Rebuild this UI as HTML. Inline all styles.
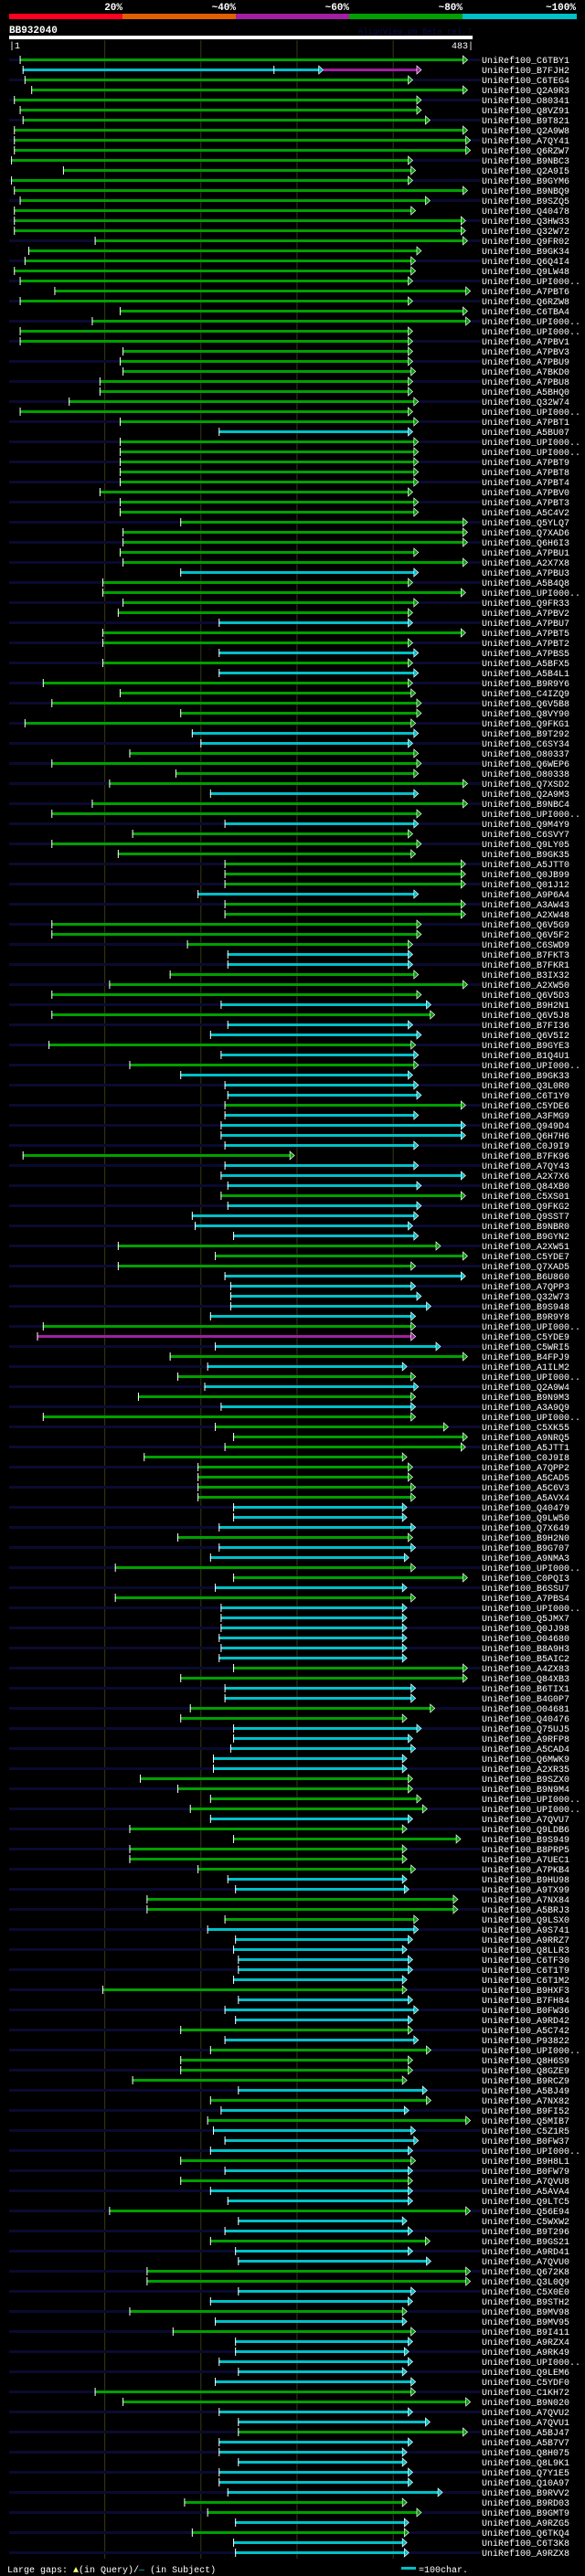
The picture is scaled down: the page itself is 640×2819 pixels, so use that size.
<!DOCTYPE html>
<html><head><meta charset="utf-8"><title>AlignView BB932040</title>
<style>
html,body{margin:0;padding:0;background:#000;}
svg{display:block;}
text{font-family:"Liberation Mono","DejaVu Sans Mono",monospace;}
</style></head>
<body>
<svg id="chart" width="640" height="2819" viewBox="0 0 640 2819" xmlns="http://www.w3.org/2000/svg">
  <rect x="0" y="0" width="640" height="2819" fill="#000"/>
  <g>
    <rect x="10" y="15" width="124" height="6" fill="#ff0020"/>
    <rect x="134" y="15" width="124" height="6" fill="#e06000"/>
    <rect x="258" y="15" width="124" height="6" fill="#a020a0"/>
    <rect x="382" y="15" width="124" height="6" fill="#00a000"/>
    <rect x="506" y="15" width="125" height="6" fill="#00c0c8"/>
    <g font-size="11" font-weight="bold" fill="#fff" text-anchor="end">
      <text x="134" y="11">20%</text>
      <text x="258" y="11">~40%</text>
      <text x="382" y="11">~60%</text>
      <text x="506" y="11">~80%</text>
      <text x="630" y="11">~100%</text>
    </g>
  </g>
  <text x="10" y="36" font-size="11" font-weight="bold" fill="#fff">BB932040</text>
  <text x="516" y="37" font-size="9" fill="#0c0c48" text-anchor="end">AlignView.pm Beta rel.7</text>
  <rect x="10" y="39" width="507" height="4" fill="#fff"/>
  <text x="10" y="53" font-size="10" fill="#fff">|1</text>
  <text x="518" y="53" font-size="10" fill="#fff" text-anchor="end">483|</text>
  <g id="grid"></g>
  <g id="rows"></g>
  <g>
    <text x="8" y="2815" font-size="10" fill="#fff">Large gaps: <tspan fill="#ffff80">▲</tspan>(in Query)/<tspan fill="#00c0c8">—</tspan> (in Subject)</text>
    <rect x="439" y="2809" width="16" height="3" fill="#00c0c8"/>
    <text x="458" y="2815" font-size="10" fill="#fff">=100char.</text>
  </g>
</svg>
<script>
const labels = ["C6TBY1","B7FJH2","C6TEG4","Q2A9R3","O80341","Q8VZ91","B9T821","Q2A9W8","A7QY41","Q6RZW7","B9NBC3","Q2A9I5","B9GYM6","B9NBQ9","B9SZQ5","Q40478","Q3HW33","Q32W72","Q9FR02","B9GK34","Q6Q4I4","Q9LW48","UPI000..","A7PBT6","Q6RZW8","C6TBA4","UPI000..",
"UPI000..","A7PBV1","A7PBV3","A7PBU9","A7BKD0","A7PBU8","A5BHQ0","Q32W74","UPI000..","A7PBT1","A5BU07","UPI000..","UPI000..","A7PBT9","A7PBT8","A7PBT4","A7PBV0","A7PBT3","A5C4V2","Q5YLQ7","Q7XAD6","Q6H6I3","A7PBU1","A2X7X8","A7PBU3","A5B4Q8","UPI000..",
"Q9FR33","A7PBV2","A7PBU7","A7PBT5","A7PBT2","A7PBS5","A5BFX5","A5B4L1","B9R9Y6","C4IZQ9","Q6V5B8","Q8VY90","Q9FKG1","B9T292","C6SY34","O80337","Q6WEP6","O80338","Q7XSD2","Q2A9M3","B9NBC4","UPI000..","Q9M4Y9","C6SVY7","Q9LY05","B9GK35","A5JTT0",
"Q0JB99","Q01J12","A9P6A4","A3AW43","A2XW48","Q6V5G9","Q6V5F2","C6SWD9","B7FKT3","B7FKR1","B3IX32","A2XW50","Q6V5D3","B9H2N1","Q6V5J8","B7FI36","Q6V5I2","B9GYE3","B1Q4U1","UPI000..","B9GK33","Q3L0R0","C6T1Y0","C5YDE6","A3FMG9","Q949D4","Q6H7H6","C0J9I9",
"B7FK96","A7QY43","A2X7X6","Q84XB0","C5XS01","Q9FKG2","Q9SST7","B9NBR0","B9GYN2","A2XW51","C5YDE7","Q7XAD5","B6U860","A7QPP3","Q32W73","B9S948","B9R9Y8","UPI000..","C5YDE9","C5WRI5","B4FPJ9","A1ILM2","UPI000..","Q2A9W4","B9N9M3","A3A9Q9","UPI000..","C5XK55",
"A9NRQ5","A5JTT1","C0J9I8","A7QPP2","A5CAD5","A5C6V3","A5AVX4","Q40479","Q9LW50","Q7X649","B9H2N0","B9G707","A9NMA3","UPI000..","C0PQI3","B6SSU7","A7PBS4","UPI000..","Q5JMX7","Q0JJ98","O04680","B8A9H3","B5AIC2","A4ZX83","Q84XB3","B6TIX1","B4G0P7","O04681",
"Q40476","Q75UJ5","A9RFP8","A5CAD4","Q6MWK9","A2XR35","B9SZX0","B9N9M4","UPI000..","UPI000..","A7QVU7","Q9LDB6","B9S949","B8PRP5","A7UEC1","A7PKB4","B9HU98","A9TX99","A7NX84","A5BRJ3","Q9LSX0","A9S741","A9RRZ7","Q8LLR3","C6TF30","C6T1T9",
"C6T1M2","B9HXF3","B7FH84","B0FW36","A9RD42","A5C742","P93822","UPI000..","Q8H6S9","Q8GZE9","B9RCZ9","A5BJ49","A7NX82","B9FI52","Q5MIB7","C5Z1R5","B0FW37","UPI000..","B9H8L1","B0FW79","A7QVU8","A5AVA4","Q9LTC5","Q56E94","C5WXW2","B9T296",
"B9GS21","A9RD41","A7QVU0","Q672K8","Q3L0Q9","C5X0E0","B9STH2","B9MV98","B9MV95","B9I411","A9RZX4","A9RK49","UPI000..","Q9LEM6","C5YDF0","C1KH72","B9N020","A7QVU2","A7QVU1","A5BJ47","A5B7V7","Q8H075","Q8L9K1","Q7Y1E5","Q10A97","B9RVV2","B9RD03",
"B9GMT9","A9RZG5","Q6TKQ4","C6T3K8","A9RZX8"];
const starts = [12,15,17,24,6,12,15,6,6,6,3,57,3,6,12,6,6,6,90,21,17,6,12,48,12,116,87,
12,12,119,116,119,95,95,63,12,116,219,116,116,116,116,116,95,116,116,179,119,119,116,119,179,98,98,
119,114,219,98,98,219,98,219,36,116,45,179,17,191,200,126,45,174,105,210,87,45,225,129,45,114,225,
225,225,197,225,225,45,45,186,228,228,168,105,45,221,45,228,210,42,221,126,179,225,228,225,225,221,221,225,
15,225,221,228,221,228,191,194,234,114,215,114,225,231,231,231,210,36,30,215,168,207,176,204,135,221,36,215,
234,225,141,197,197,197,197,234,234,219,176,219,210,111,234,215,111,221,221,221,219,221,219,234,179,225,225,189,
179,234,234,231,213,213,137,176,210,189,210,126,234,126,126,197,228,236,144,144,225,207,236,234,239,239,
234,98,239,225,236,179,225,210,179,179,129,239,210,221,207,213,225,210,179,225,179,210,228,105,239,225,
210,236,239,144,144,239,210,126,215,171,236,236,219,239,215,90,119,219,239,239,219,219,239,219,219,228,183,
207,236,191,234,236];
const ends = [473,323,416,473,425,425,434,473,476,476,416,419,416,473,434,419,471,471,473,425,419,419,416,476,416,473,476,
416,416,416,416,419,416,416,422,416,422,416,422,422,422,422,422,416,422,422,473,473,473,422,473,422,416,471,
422,416,416,471,416,422,416,422,416,419,425,425,419,422,416,422,425,422,473,422,473,425,422,416,425,419,471,
471,471,422,471,471,425,425,416,416,416,422,473,425,435,439,416,425,419,422,422,416,422,425,471,422,471,471,422,
293,422,471,425,471,425,422,416,422,445,473,419,471,419,425,435,419,419,419,445,473,410,419,422,419,419,419,453,
473,471,410,416,416,419,419,410,410,419,416,419,412,419,473,410,419,410,410,410,410,410,410,473,473,419,419,439,
410,425,416,419,410,410,416,416,425,431,416,410,466,410,410,419,410,412,463,463,422,422,416,410,416,416,
410,410,416,422,416,416,422,435,416,416,410,431,435,412,476,419,422,416,419,416,416,416,416,476,410,416,
434,416,435,476,476,419,416,410,410,419,416,412,416,410,419,419,476,416,434,473,416,410,410,416,416,447,410,
425,412,412,410,412];
const colors = "gcggggggggggggggggggggggggg" +
  "ggggggggggcgggggggggggggcgg" +
  "ggcggcgcgggggccggggcggcgggg" +
  "ggcgggggccgggcgccgcgcccgcccc" +
  "gcccgccccgggcccccgpcgcgcgcgg" +
  "gggggggcccgccggcgccccccggccg" +
  "gcccccggggcgggggccgggccccc" +
  "cgcccgcggggcgcgcccgcgccgcc" +
  "gccggccgcgcccccggccgccccccg" +
  "gcgcc";
// Extension of row 1 (B7FJH2): purple segment after cyan part
const extRow = [1];
const extEnd = [425];

const NS = "http://www.w3.org/2000/svg";
const COL = {g:"#00a000", c:"#00c0c8", p:"#a020a0"};
function xPos(p){ return 10 + (p - 1) * 1.0518; }
function yPos(i){ return 65 + i * 11; }
function mk(tag, attrs, parent){
  const el = document.createElementNS(NS, tag);
  for (const k in attrs) el.setAttribute(k, attrs[k]);
  parent.appendChild(el);
  return el;
}
const grid = document.getElementById("grid");
const gridTicks = [100, 200, 300, 400];
gridTicks.forEach(function(t){
  const ln = mk("line", {x1:xPos(t)+0.5, x2:xPos(t)+0.5, y1:44, y2:2800, stroke:"#3a3a10", "stroke-width":1}, grid);
  
  
});
const rowsG = document.getElementById("rows");
for (let i = 0; i < labels.length; i++){
  const y = yPos(i);
  const g = mk("g", {}, rowsG);
  
  
  if (i % 2 === 0){
    const z = mk("rect", {x:10, y:y-1, width:516, height:3, fill:"#0a0a30"}, g);
    
    
  }
  const c = COL[colors[i]] || COL.g;
  const x0 = xPos(starts[i]), x1 = xPos(ends[i]);
  const bar = mk("rect", {x:x0, y:y-1, width:Math.max(1, x1-x0), height:3, fill:c}, g);
  
  
  const tick = mk("rect", {x:x0, y:y-4, width:1, height:9, fill:"#fff"}, g);
  
  
  const arr = mk("polygon", {points:(x1)+","+(y-4)+" "+(x1+5)+","+(y+0.5)+" "+(x1)+","+(y+5), fill:c, stroke:"#fff", "stroke-width":0.7}, g);
  
  
  const ei = extRow.indexOf(i);
  if (ei >= 0){
    const xe = xPos(extEnd[ei]);
    const eb = mk("rect", {x:x1+5, y:y-1, width:xe-x1-5, height:3, fill:COL.p}, g);
    
    
    const ea = mk("polygon", {points:(xe)+","+(y-4)+" "+(xe+5)+","+(y+0.5)+" "+(xe)+","+(y+5), fill:COL.p, stroke:"#fff", "stroke-width":0.7}, g);
    
    
    const t2 = mk("rect", {x:xPos(276), y:y-4, width:1, height:9, fill:"#fff"}, g);
    
    
  }
  const tx = mk("text", {x:527, y:y+4, "font-size":10, fill:"#fff"}, g);
  tx.textContent = "UniRef100_" + labels[i];
  
  
}
</script>
</body></html>
